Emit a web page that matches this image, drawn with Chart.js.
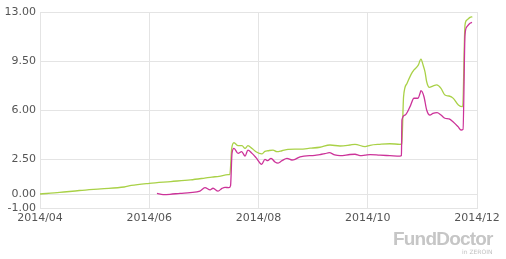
<!DOCTYPE html>
<html>
<head>
<meta charset="utf-8">
<script src="https://cdn.jsdelivr.net/npm/chart.js@4"></script>
<style>
  body { margin: 0; background: #fff; }
  #wrap { position: relative; width: 506px; height: 259px; }
  #logo { position: absolute; left: 393px; top: 228px; font: bold 19px "Liberation Sans", Arial, sans-serif; color: #c6c6c6; letter-spacing: -0.8px; }
  #sub { position: absolute; left: 462px; top: 248px; font: 6px "DejaVu Sans", sans-serif; color: #c0c0c0; }
</style>
</head>
<body>
<div id="wrap">
  <canvas id="chart" width="506" height="259"></canvas>
  <div id="logo">FundDoctor</div>
  <div id="sub">in ZEROIN</div>
</div>
<script>
// x = days since 2014/04/01
const xTickDays = [0, 61, 122, 183, 244];
const xTickLabels = ['2014/04', '2014/06', '2014/08', '2014/10', '2014/12'];
const yTicks = [13, 9.5, 6, 2.5, 0, -1];

// green series
const greenDays = [0, 11, 22, 34, 47, 51, 61, 73, 84, 92, 96, 100, 105, 106, 107, 108.3, 110.6, 112.8, 114.5, 116.1,
  118.4, 120.6, 123.8, 125.6, 127.3, 130.1, 132.3, 135.1, 138.5, 142.4, 145.2, 150.8, 156.3, 161.9, 167.5, 173.1,
  175.9, 181.5, 184.3, 189.8, 195.4, 201, 202, 203, 204.9, 207.5, 208.8, 211.2, 212.7, 213.9, 215, 215.9, 217.4,
  219.3, 221.5, 223.9, 226.1, 228.4, 230.8, 233.6, 236, 237.3, 238.4, 240.1, 241.4];
const greenValues = [0.00, 0.11, 0.25, 0.37, 0.50, 0.61, 0.76, 0.89, 1.01, 1.14, 1.21, 1.26, 1.38, 1.40, 3.20, 3.66, 3.45, 3.45, 3.26, 3.45,
  3.25, 3.02, 2.86, 3.05, 3.09, 3.14, 3.02, 3.09, 3.19, 3.21, 3.21, 3.27, 3.34, 3.50, 3.43, 3.50,
  3.55, 3.38, 3.48, 3.55, 3.59, 3.55, 3.58, 6.95, 7.90, 8.62, 8.86, 9.20, 9.64, 9.21, 8.71, 8.02, 7.62,
  7.71, 7.79, 7.55, 7.07, 7.00, 6.83, 6.36, 6.24, 12.07, 12.43, 12.62, 12.66];

// pink series
const pinkDays = [65.3, 68.7, 72.6, 78.2, 83.8, 89.3, 92.1, 95, 96.6, 99.4, 101.6, 103.3, 105.5, 106.4, 107.2, 108.3,
  110.6, 112.6, 114.5, 116.1, 118.4, 120.6, 123.8, 125.6, 127.1, 129, 131.2, 132.9, 135.1, 137.9, 140.7, 142.4,
  145.2, 153.5, 156.3, 159.1, 161.5, 164.6, 167.5, 173.1, 175.9, 178.7, 181.5, 184.3, 189.8, 195.4, 201, 201.8,
  202.1, 203.8, 206.6, 208.8, 211.1, 212.2, 212.7, 214.4, 215.9, 217.7, 219.4, 221.7, 223.9, 226.1, 228.4, 230.6,
  233.4, 235.1, 236.2, 237.3, 238.4, 240.1, 241.2];
const pinkValues = [0.05, -0.04, -0.02, 0.05, 0.10, 0.21, 0.45, 0.29, 0.41, 0.21, 0.40, 0.48, 0.45, 0.60, 2.90, 3.26,
  2.90, 3.02, 2.71, 3.14, 2.90, 2.60, 2.12, 2.48, 2.38, 2.55, 2.29, 2.21, 2.38, 2.55, 2.43, 2.48,
  2.66, 2.76, 2.82, 2.88, 2.95, 2.79, 2.74, 2.82, 2.84, 2.74, 2.77, 2.81, 2.77, 2.74, 2.71, 2.75,
  5.29, 5.64, 6.24, 6.84, 6.84, 7.19, 7.38, 6.95, 6.00, 5.64, 5.76, 5.81, 5.64, 5.41, 5.36, 5.16,
  4.81, 4.57, 4.62, 11.36, 11.95, 12.19, 12.26];

const toPoints = (xs, ys) => xs.map((x, i) => ({ x: x, y: ys[i] }));
const gridColor = '#e4e4e4';
const tickFont = { family: 'DejaVu Sans', size: 11 };

new Chart(document.getElementById('chart'), {
  type: 'line',
  data: {
    datasets: [
      {
        data: toPoints(pinkDays, pinkValues),
        borderColor: '#cc3399',
        borderWidth: 1.3,
        pointRadius: 0,
        cubicInterpolationMode: 'monotone'
      },
      {
        data: toPoints(greenDays, greenValues),
        borderColor: 'rgba(160, 204, 51, 0.9)',
        borderWidth: 1.3,
        pointRadius: 0,
        cubicInterpolationMode: 'monotone'
      }
    ]
  },
  options: {
    responsive: false,
    animation: false,
    layout: { padding: { top: 12, right: 29, left: 0, bottom: 0 } },
    plugins: { legend: { display: false }, tooltip: { enabled: false } },
    scales: {
      x: {
        type: 'linear',
        min: 0,
        max: 244,
        afterBuildTicks: s => { s.ticks = xTickDays.map(v => ({ value: v })); },
        afterFit: s => { s.height = 51; },
        ticks: {
          color: '#555',
          font: tickFont,
          padding: 4,
          maxRotation: 0,
          callback: v => xTickLabels[xTickDays.indexOf(v)]
        },
        grid: { color: gridColor, drawTicks: false },
        border: { color: gridColor }
      },
      y: {
        min: -1,
        max: 13,
        afterBuildTicks: s => { s.ticks = yTicks.map(v => ({ value: v })); },
        afterFit: s => { s.width = 40; },
        ticks: {
          color: '#555',
          font: tickFont,
          padding: 4,
          callback: v => v.toFixed(2)
        },
        grid: { color: gridColor, drawTicks: false },
        border: { color: gridColor }
      }
    }
  }
});
</script>
</body>
</html>
